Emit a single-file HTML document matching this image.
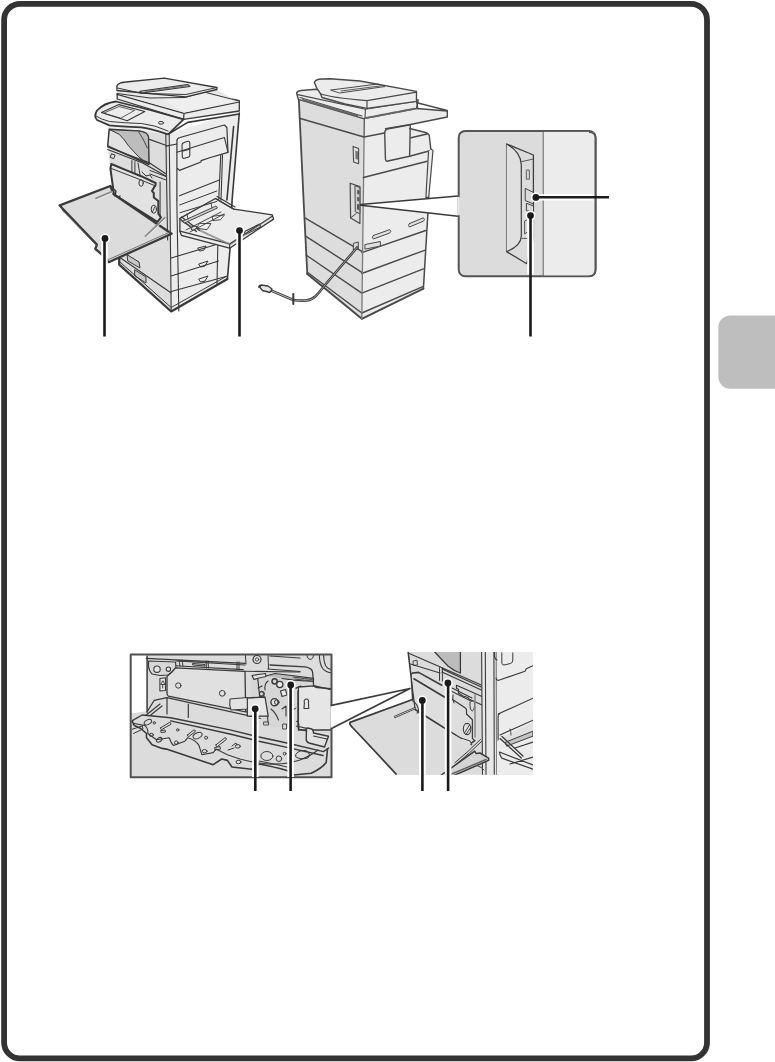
<!DOCTYPE html>
<html><head><meta charset="utf-8">
<style>
html,body{margin:0;padding:0;background:#fff;width:775px;height:1062px;overflow:hidden;font-family:"Liberation Sans",sans-serif;}
svg{position:absolute;left:0;top:0;}
</style></head>
<body>
<svg width="775" height="1062" viewBox="0 0 775 1062">
<!-- page frame -->
<rect x="4.1" y="3.8" width="702.9" height="1054.6" rx="16" ry="16" fill="none" stroke="#333" stroke-width="5.8"/>
<!-- side tab -->
<rect x="718.3" y="315.5" width="70" height="73.3" rx="12" ry="12" fill="#bebebe"/>

<g id="p1" stroke="#383838" stroke-width="1.3" stroke-linejoin="round" stroke-linecap="round">
<!-- base/right face -->
<path d="M168.1,134.3 L239.3,111 L239.3,120 L232.1,200 L230,249 L227.4,279 L171.2,311.5 Z" fill="#ececec" stroke="none"/>
<!-- front face -->
<path d="M108,128 L166,131 L168.1,134.3 L171.2,311.5 L119.2,264.6 L119.2,257 L114,195 L110.4,168.5 L107.7,146 Z" fill="#dddddd" stroke="none"/>
<!-- right face structure lines -->
<path d="M239.3,113 L232.1,200 L230,249 L227.4,279 M233.6,126.5 L226.9,200 M168.1,134.3 L187.7,122.4 L239.3,114" fill="none" stroke-width="1.6"/>
<!-- base drawer lines -->
<path d="M171.2,258 L218,244 M171.2,276 L218.5,261 M171.2,291.5 L226,276.5 M176.8,200 L178.8,311 M119.2,257 L171.2,293 M218,236 L217,284" fill="none" stroke-width="1.1"/>
<path d="M127.5,255 L139,262 L140,268 L128,261 Z M135,270 L146,277 L146,283 L135,276 Z" fill="#c8c8c8" stroke-width="1"/>
<path d="M198,248 L206,246 L204,250 L200,251 Z M199,264 L208,261 L205,266 L201,267 Z M199,279 L208,276 L205,281 L201,282 Z" fill="none" stroke-width="1"/>
<path d="M119.2,257 L119.2,264.6 L171.2,311.5 L227.4,279" fill="none" stroke-width="2.2"/>
<path d="M120,262 L171.2,307.5 L227,276" fill="none" stroke-width="1"/>
<!-- scanner plate front slope -->
<path d="M108,128 L117,98 L183.6,119.3 L168.1,134.3 Z" fill="#ececec" stroke="none"/>
<!-- scanner top plate -->
<path d="M117.2,93.5 L170,85 L239.3,100.7 L239.3,111 L183.6,119.3 L117.2,99 Z" fill="#ececec"/>
<path d="M117.2,94.4 L184,113.4 L239.3,102 M184,113.4 L183.6,119.3" fill="none" stroke-width="1.2"/>
<!-- ADF base and exit tray -->
<path d="M117,89.5 L185,97 L216.9,89.5 L236.4,100.7 L184,112.4 L117.2,93.5 Z" fill="#e8e8e8" stroke="none"/>
<path d="M160,97 L204,91.7 L236.4,100.7 L184,112.4 Z" fill="#efefef" stroke="none"/>
<path d="M117.2,93.5 L150,98 L185,97.5 L204,92 L237,100.5" fill="none" stroke-width="1"/>

<!-- ADF lid -->
<path d="M116.9,86 Q118,82.5 126,82 L164.2,78.1 L216.9,87.5 L216.9,89.5 L185.9,96.8 L116.9,90.5 Z" fill="#ececec"/>
<path d="M117.5,88 L141.8,93.4 L185.9,94.5 L216.9,87.5" fill="none" stroke-width="1"/>
<path d="M139.8,91.3 L187.7,84.5 L190,86.5 L142,93 Z" fill="#c4c4c4" stroke-width="1.1"/><path d="M146,91.5 L186,85.8" fill="none" stroke="#555" stroke-width="0.9" stroke-dasharray="1.2,1"/>
<!-- control panel -->
<path d="M97,110.5 Q104,103 116,101.5 L150,110 L183.6,119.3 L168.1,134.3 Q152,129 141.6,127.3 Q118,126.5 109.4,125.3 L97,120 Q93.5,116 97,110.5 Z" fill="#ececec" stroke-width="1.8"/>
<path d="M96,116 Q100,119 109.4,121.5 Q125,123 141.6,123.5 Q155,125 168.1,131" fill="none" stroke-width="1"/>
<path d="M101.4,112.5 L118.9,104.6 L144.8,111.5 L127.2,120.8 Z" fill="#ececec" stroke-width="1.1"/>
<path d="M104,113 L119,106.5 L134.5,110.5 L121,118 Z" fill="none" stroke-width="0.8"/>
<ellipse cx="161" cy="122.8" rx="2.6" ry="1.4" fill="none" stroke-width="1"/>
<!-- front corner lines -->
<path d="M165.8,134 L167.6,240 M169.2,134.5 L171.2,311.5" fill="none" stroke-width="1.1"/>

<!-- output tray -->
<path d="M109.2,129.2 L138.7,131.1 Q147.4,132 148.4,137 L148.9,164.5 L107.7,146 Z" fill="#e2e2e2" stroke-width="1.5"/>
<path d="M110.2,129.7 L138.7,131.1 Q147.4,132 148.4,137 L148.9,164.5 Q144,161 138.7,156.8 Q133,151 128.1,145.2 Q124,139 119.4,134.5 Z" fill="#bdbdbd" stroke-width="1"/>
<path d="M138.7,132 Q143,138 147.4,148" fill="none" stroke-width="0.9"/>
<path d="M107.7,147 L148.9,162.6 L165.8,173.7 M107.7,149.5 L142.6,163 L165.8,176.1 M149.4,139.4 L165.8,145.2" fill="none" stroke-width="1.2"/>
<rect x="111.1" y="154.4" width="3.4" height="3.8" fill="none" stroke-width="0.9" transform="rotate(20 112.8 156.3)"/>
<path d="M131.9,160.5 L131.9,174 M134.9,161.5 L134.9,175 M138,163 L140,175" fill="none" stroke-width="1"/>
<!-- waste toner box -->
<path d="M111.3,164 L126.7,170.4 L141.1,176.2 L155.6,183 L155.6,184.8 L152,191.1 L153.8,193 L153.8,197.5 L158.3,201 L158.3,213.7 L161,217.3 L157.4,221.8 L114,194.7 L110.4,168.5 Z" fill="#e2e2e2" stroke-width="2"/>
<path d="M111.3,168.5 L141.1,180 L155.6,186" fill="none" stroke-width="1"/>
<ellipse cx="141.1" cy="183" rx="2.2" ry="3.3" fill="none" stroke-width="1"/>
<ellipse cx="153.8" cy="209.2" rx="2.6" ry="4" fill="none" stroke-width="1"/>
<path d="M152.5,212 L155,206.5" fill="none" stroke-width="0.9"/>
<path d="M142,172 L146,176 L150,175 L152,178 M160.1,182 L160.1,216 M150,170.5 L166,176.5 M150,174 L166,180" fill="none" stroke-width="1"/>
<path d="M114,194.7 L116,199 L120,196" fill="none" stroke-width="1.4"/>
<!-- right face door -->
<path d="M176.9,200 L176.9,141 Q176.9,137.9 180,137.5 L224.4,125 L226.9,127.5 L228,152.3 L210.4,157.5 L201.1,160.6 L201,162 L179.5,170.4 L176.9,167.8" fill="#ececec" stroke-width="1.2"/>
<path d="M176.9,152.3 L224.4,137.4 L228,152.3 M166,146.1 L176.9,144" fill="none" stroke-width="1.1"/>
<path d="M182,145 Q182,143 184,142.6 L188,141.3 Q189.8,141 189.8,143 L189.8,155.4 Q189.8,156.8 188,157.3 L184.5,158.3 Q182.3,158.8 182.3,156.5 Z M182,151.3 L189.8,149.2" fill="none" stroke-width="1.1"/>
<path d="M179.5,195.7 L218.7,180.2 M220.7,155.4 L218.7,200 M222.5,155 L221,200" fill="none" stroke-width="1.1"/>
<!-- left door (open) -->
<path d="M59.7,205.4 L110.3,186 L113.7,194.3 L171.6,233.7 L108.7,262.2 L101.1,253.8 L95.3,248.8 L96.9,244.6 L62.5,208.5 Z" fill="#dcdcdc" stroke="#3a3a3a" stroke-width="2.3"/>
<path d="M62,210 L97.5,246.5 M103,256 L108.7,259.5 L170,232" fill="none" stroke-width="0.9" stroke="#666"/>
<path d="M96.1,198.4 L112,191.7 M145.6,236.2 L164.9,217.7" fill="none" stroke="#8a8a8a" stroke-width="1.8"/>
<path d="M96.5,199.5 L112.5,192.8 M146.5,237 L165.5,219" fill="none" stroke="#f2f2f2" stroke-width="0.8"/>
<path d="M110.3,186 L116,191 L115,196" fill="none" stroke-width="1.3"/>
<!-- bypass tray -->
<path d="M179.9,218.4 L215.4,198.5 L233.9,209.2 L272.2,214.8 L273.6,219.1 L229.6,248.2 L181.4,235.4 L179.9,231.2 Z" fill="#ececec" stroke-width="1.3"/>
<path d="M179.9,231.2 L229.6,243.9 L272.2,216.3 M229.6,243.9 L229.6,248.2" fill="none" stroke-width="1.2"/>
<path d="M181,221 L229.6,243.9" fill="none" stroke="#888" stroke-width="0.9"/>
<path d="M179.7,218.7 L196.5,231.5 M181.5,217 L199.5,230.5" fill="none" stroke-width="1.2"/>
<path d="M215.4,198.5 L233.9,209.2 M217,196.5 L235,207" fill="none" stroke-width="1.1"/>
<path d="M212.6,216.3 L224.6,214.8 L220.4,219.8 L213.3,220.5 Z M199.8,223.4 L211,223.6 L207,229.7 L197,228.3 Z" fill="#f2f2f2" stroke-width="0.9"/>
<path d="M183,221 L216,206 L217.5,208 L184.5,223 Z" fill="#cfcfcf" stroke-width="0.9"/>
<path d="M186,230 L221,212 M190,232 L224,214" fill="none" stroke-width="0.9"/>
<path d="M179.6,205 L216.8,191 M180,212.7 L216.8,201.4" fill="none" stroke-width="1"/>
<ellipse cx="194" cy="228" rx="3" ry="1.6" fill="#ddd" stroke-width="0.9" transform="rotate(-25 194 228)"/>
<path d="M187,214 L188,219 M211,203 L212,208" fill="none" stroke-width="0.9"/>
<path d="M245.2,231.2 L259.4,224.1 Q261.5,225.5 259.5,227.5 L246.5,234 Q243.5,233.5 245.2,231.2 Z" fill="none" stroke-width="1.1"/>
<path d="M200,231 L230,245 L269,219" fill="none" stroke="#777" stroke-width="0.8"/>
</g>

<g id="p2" stroke="#4a4a4a" stroke-width="1.4" stroke-linejoin="round" stroke-linecap="round">
<!-- left face -->
<path d="M298.8,99 L364.3,118.9 L361.8,318.8 L307.3,274 L303.8,205 Z" fill="#dddddd" stroke="none"/>
<path d="M298.8,99 L303.8,205 L307.3,274" fill="none" stroke-width="1.8"/>
<!-- right face -->
<path d="M364.3,118.9 L416.5,108.5 L447.3,111 L447.3,117 L409.2,124.7 L410.3,128.5 L426.6,132.8 Q429.4,134 429.4,136.5 L430.8,149.1 L433,150.5 L428,212 L423.4,288.6 L361.8,318.8 Z" fill="#ececec" stroke="none"/>
<path d="M428.5,197 L428,212 L423.4,288.6" fill="none" stroke-width="1.5"/>
<!-- drawer lines -->
<path d="M304.9,217.8 L361.8,251.4 M306,236.4 L361.8,272.3 M306,255 L361.8,293.2 M361.8,252.6 L425.7,230.5 M361.8,273.5 L424.5,250.3 M361.8,293.2 L423.4,268.9 M307.3,272.3 L361.8,313 L423.4,286.3" fill="none"/>
<path d="M307.3,274 L361.8,318.8 L423.4,288.6" fill="none" stroke-width="2"/>
<path d="M364.3,118.9 L364.1,136 " fill="none" stroke-width="1.2"/><path d="M364.1,136 L361.8,318.8" fill="none" stroke="#7a7a7a" stroke-width="1.3"/>
<!-- upper lines -->
<path d="M300.3,118.5 L364,137 L384.5,133 M363.4,177.5 L427.3,161.2" fill="none"/>
<!-- cover slots -->
<path d="M373.4,235.5 L389.7,229.6 Q392,231.5 389.7,233 L373.4,239 Q371,237 373.4,235.5 Z M409.4,223.6 L423.4,217.8 Q425.5,219.5 423.4,221.2 L409.4,227 Q407.3,225.5 409.4,223.6 Z" fill="#e0e0e0" stroke-width="1"/>
<path d="M365.3,244.5 L380.4,241.5 L380.4,246 L365.3,249.1 Z" fill="#e0e0e0" stroke-width="1"/>
<!-- exit holder -->
<path d="M384.7,133 Q384.7,129.5 388.5,128.8 L410.3,124.7 L409.6,156.2 L388,161 Q385.4,161.9 385.4,158 Z" fill="#ececec"/>
<path d="M409.6,128.5 L426.6,132.8 Q429.4,134 429.4,136.5 L430.8,149.1 M411,137.8 L427,134 M409.6,156.2 L430.8,150.5" fill="none"/>
<path d="M430.8,149.1 L433,150.5 L428.7,197.4 L425.9,197.4 L428.5,152" fill="#ececec" stroke-width="1.2"/>
<!-- top plate -->
<path d="M296.6,93 Q297,91 301,90.5 L316,89.3 L418.2,100 L416.5,108.5 L363.5,118.6 L298.3,99.3 Z" fill="#ececec"/>
<path d="M297.7,94.6 L365.4,109.3 L416.5,101.2 M365.4,109.3 L365,118.3 M300,97.5 L362,116" fill="none" stroke-width="1.1"/>
<path d="M303,100 L358,116 M366,118 L415,108.6" fill="none" stroke="#666" stroke-width="2" stroke-dasharray="1.2,1.2"/>
<path d="M416.5,101.5 L416.9,102.7 L447.3,110.5 L447.3,117 L409.2,124.7 L385.5,128.6 M416.5,108.5 L447.3,111" fill="none" stroke-width="1.4"/>
<path d="M416.5,101.5 L418,108.8" fill="none" stroke-width="1.1"/>
<!-- ADF -->
<path d="M314.3,82.3 Q315.5,79.2 322,79 L330,78.8 L360,81 L416.5,91.4 L416.5,101.4 L367,108.4 L345,104 L322,97.5 L320.5,93.7 Q316,88 314.3,82.3 Z" fill="#ececec"/>
<path d="M320.5,93.7 Q330,97.5 367,100.6 L416.5,92.1 M367,100.6 L367,108.4" fill="none" stroke-width="1.2"/>
<path d="M331,90 L378,84 L385,86.5 L340,93 Z" fill="none" stroke-width="1"/>
<path d="M341,91 L380,86" fill="none" stroke-width="0.9"/>
<!-- switch -->
<path d="M353.1,146.4 L358.6,148.5 L358.6,163.7 L353.6,162 Z" fill="#e2e2e2" stroke-width="1.1"/>
<path d="M355.3,150.5 L358,151.5 L358,159.8 L355.5,159 Z" fill="#777" stroke="none"/>
<!-- port panel -->
<path d="M350.2,183.2 L359.9,186.6 L359.9,223.5 L350.6,218 Z" fill="#dcdcdc" stroke-width="1.2"/>
<path d="M355.3,185.8 L359.9,187.5 L359.9,213.7 L355.7,212 Z" fill="#d0d0d0" stroke-width="1"/>
<path d="M351,217.5 L356.1,213.7" fill="none" stroke-width="1"/>
<path d="M357.2,190 L359.3,190.5 L359.3,194.5 L357.2,194 Z M357.2,197 L359.3,197.5 L359.3,201.5 L357.2,201 Z M357,204 L359.3,204.5 L359.3,210 L357,209.5 Z" fill="#555" stroke="none"/>
<!-- power socket + cord -->
<path d="M353.7,243.3 L358.3,242 L358.3,249 L353.7,250.3 Z" fill="#d8d8d8" stroke-width="1"/>
<path d="M357,247.5 L325,285 C318,294 314,300 306,300.5 C301,301 297,300.5 293.3,300" fill="none" stroke="#3a3a3a" stroke-width="2.6"/>
<path d="M357,247.5 L325,285 C318,294 314,300 306,300.5 C301,301 297,300.5 293.3,300" fill="none" stroke="#bbb" stroke-width="0.8"/>
<path d="M293.3,300 L271,290.5" fill="none" stroke="#3a3a3a" stroke-width="2.6"/>
<path d="M293.3,300 L271,290.5" fill="none" stroke="#ccc" stroke-width="0.9"/>
<path d="M293.3,294 L293.3,304" fill="none" stroke="#3a3a3a" stroke-width="2"/>
<path d="M272,289 L268,286 L261,285 L260,287.5 L262.5,290.5 L270,292.5 Z" fill="#e4e4e4" stroke="#3a3a3a" stroke-width="1.3"/>
<path d="M260,285.5 L259,287" fill="none" stroke="#3a3a3a" stroke-width="2"/>
</g>
<g id="inset" stroke-linejoin="round">
<!-- zoom cone -->
<path d="M360.6,204.5 L458,195.9 L458,216.2 L360.6,205.2 Z" fill="#fff" stroke="none"/><path d="M458,195.9 L360.6,204.5 L360.6,205.2 L458,216.2" fill="none" stroke="#3a3a3a" stroke-width="1.5"/>
<rect x="458.7" y="130.9" width="136.8" height="145.4" rx="6.5" fill="#dcdcdc" stroke="#555" stroke-width="2"/>
<rect x="543.2" y="131.9" width="51.3" height="143.4" fill="#ececec" stroke="none"/>
<path d="M589,131.9 Q595.5,131.9 595.5,138 L595.5,269 Q595.5,276.3 589,276.3" fill="#ececec" stroke="#555" stroke-width="2"/>
<path d="M543.2,131.9 L543.2,276" stroke="#666" stroke-width="1"/>
<path d="M457.5,196.9 L459.9,196.9 L459.9,215.2 L457.5,215.2 Z" fill="#e8e8e8" stroke="none"/>
<!-- port panel big -->
<path d="M506.6,144 L533.4,155 L533.4,238.4 L526.8,263.7 L506.6,251.6 Z" fill="#dcdcdc" stroke="#3e3e3e" stroke-width="1.3"/>
<path d="M506.6,144 Q521,152 521.3,165 L521.3,236 Q521,246 506.6,251.6" fill="#e0e0e0" stroke="#3e3e3e" stroke-width="1.2"/>
<path d="M521.3,161.7 L533.4,159 M521.3,238.4 L533.4,238.4" fill="none" stroke="#555" stroke-width="1"/>
<rect x="526.3" y="170" width="3.1" height="9.2" fill="#d4d4d4" stroke="#555" stroke-width="0.9"/>
<path d="M525.2,188.3 L533.5,192.5 L533.5,204 L525.2,200.5 Z" fill="#dadada" stroke="#444" stroke-width="1"/>
<path d="M526.4,203.2 L533.5,206.1 L533.5,211.7 L526.4,210.7 Z" fill="#dadada" stroke="#444" stroke-width="1"/>
<path d="M527.2,219.8 L524.6,221 L524.6,234 L527.2,232" fill="none" stroke="#555" stroke-width="1"/>
</g>

<g id="b1" stroke="#3a3a3a" stroke-width="1.1" stroke-linejoin="round" stroke-linecap="round">
<clipPath id="cb1"><rect x="131" y="655" width="200" height="122"/></clipPath>
<rect x="130.7" y="654.4" width="200.8" height="122.9" fill="#dcdcdc" stroke="none"/>
<g clip-path="url(#cb1)">
<!-- white left strip -->
<path d="M131,655 L147.1,655 L147.1,711 L131,713.5 Z" fill="#fff" stroke="none"/>
<path d="M147.1,656 L147.1,712" fill="none" stroke-width="1.5"/>
<!-- top rail -->
<path d="M146.2,658.3 L245.3,663.4 M176,661 L245,665 M171,665.5 L243.2,669.6 M268,669 L300,671.5 M270,656 L300,658" fill="none" stroke-width="1.2"/>
<path d="M179,660 L180,666 M182,660 L183,666 M206,661 L206.5,668 M208,661 L208.5,668 M237,662 L237,670 M239,662 L239,670 M245.3,654 L246,664 M268,654 L268.5,669 M193,663.5 L205,664.5 L205,666 L193,665 Z" fill="none" stroke-width="1"/>
<circle cx="257" cy="659.5" r="4" fill="#e4e4e4" stroke-width="1.2"/>
<circle cx="257" cy="659.5" r="1.7" fill="none" stroke-width="0.9"/>
<!-- top-left mechanism -->
<path d="M148.5,661 L175.5,662 L176,668 L172,672 L168,675 L160,675.5 L152,674 Q148.5,670 148.5,665 Z" fill="#d8d8d8" stroke-width="1.2"/>
<circle cx="157" cy="669.2" r="3.2" fill="#e6e6e6"/>
<circle cx="168.4" cy="669.2" r="2.2" fill="#e6e6e6"/>
<path d="M159.9,678.5 L165.5,677.7 L165.5,690.5 L159.9,691 Z" fill="#e4e4e4" stroke-width="1.1"/>
<path d="M162.7,681 L160.8,684.5 L164.5,684.5 Z M162.7,684.5 L162.7,688" fill="none" stroke-width="0.9"/>
<!-- inner panel -->
<path d="M167,676.3 L172,672 L175.5,667.8 L245,671.3 L245.7,711.8 L168.4,696.2 Q167,695.5 167,693 Z" fill="#e0e0e0" stroke-width="1.3"/>
<circle cx="178.3" cy="685.5" r="2.7" fill="none" stroke-width="1"/>
<circle cx="222.3" cy="693.3" r="2.9" fill="none" stroke-width="1"/>
<path d="M245,671.3 L300,672 M245.7,711.8 L300,722" fill="none" stroke-width="1.1"/>
<!-- lower frame -->
<path d="M147,712 L154.2,700.4 L167,697.6 L167,714 M167,697.6 L300,727 M188.3,704 L188.3,717.5 M140,720 L160,704 M142,722 L162,706" fill="none" stroke-width="1.2"/>
<!-- mechanism -->
<path d="M251,676 L258,674 L266,673.5 L275,674 L291.5,675.5 L313.5,678.4 L313.5,686 L296.1,688.2 L296.1,727 L268,727 L258,715 L252,700 Z" fill="#d6d6d6" stroke="none"/>
<path d="M252,675.5 L265.5,673.5 L266,676.5 L259,678 L254,679.5 Z" fill="#e6e6e6" stroke-width="1.2"/>
<path d="M257.8,679 L260,699 M258,688 L262,686" fill="none" stroke-width="1.2"/>
<path d="M266,676 L275,673.5 L291.5,675.5 L313.5,678.4 L313.5,681.3 L293.8,680.1 L282,678.5" fill="#bdbdbd" stroke-width="1.2"/>
<path d="M293,677 L312,679.5 M295,679 L311,681" fill="none" stroke="#555" stroke-width="1.2" stroke-dasharray="1.5,1"/>
<path d="M296.1,688.2 L300.8,686 L302,690 L298,691 L298,727" fill="none" stroke-width="1.3"/>
<path d="M288,682 L288,727 M268,681 Q264,684 265,690" fill="none" stroke-width="1.1"/>
<circle cx="274.6" cy="681.3" r="2.6" fill="#cfcfcf" stroke-width="1.5"/>
<circle cx="279.8" cy="684.5" r="3.1" fill="#ececec" stroke-width="1.3"/>
<path d="M280.5,691 L285.5,689.5 L287,695 L282,696.5 Z" fill="#e8e8e8" stroke-width="1.1"/>
<circle cx="261.8" cy="694" r="2.4" fill="#e0e0e0" stroke-width="1.2"/>
<path d="M262,691 L264,694 L261,696" fill="none" stroke-width="0.8"/>
<circle cx="274.5" cy="702.2" r="3.6" fill="#e2e2e2" stroke-width="1.4"/>
<circle cx="276.8" cy="702.2" r="2.3" fill="none" stroke-width="1"/>
<path d="M271,709 Q276,713 278.5,720 M267,711 L268,722 M282,709 L286,706 L286,716" fill="none" stroke-width="1.1"/>
<path d="M247.3,698 L265,697 L268.2,716.1 L247.3,716 Z" fill="#e6e6e6" stroke-width="1.3"/>
<path d="M230,699 L247.3,697.5 L247.3,709 L231,710 Q229,705 230,699 Z" fill="#e2e2e2" stroke-width="1.1"/>
<path d="M288,696 L293,693 M290,712 L296,708" fill="none" stroke-width="1"/>
<!-- right side panel -->
<path d="M298.4,687 L314.7,685.9 L329.8,689.4 L332,689 L332,730 L298.4,730 Z" fill="#e6e6e6" stroke-width="1.3"/>
<path d="M270,665 L305.2,666.8 Q312.7,668 312.7,673 L313.6,685.3 Q314,687 317,687.5 L331,688.6" fill="none" stroke-width="1.3"/>
<path d="M304.4,702.5 A2.3,2.3 0 1 1 308.4,702.5 L308.8,708.5 L304,708.5 Z" fill="none" stroke-width="1.1"/>
<path d="M319.4,655 Q319.5,672 331,672.7 M323.6,655 Q324,669 331,669.3" fill="none" stroke-width="1.1"/>
<path d="M307,655.5 Q307.5,659.3 310.2,659.3 Q313,659.3 313.5,655.5" fill="none" stroke-width="1"/>
<path d="M298.8,724 L298.8,726.5 L306.5,728.3 M298.8,726.5 L298.8,729 L306,731" fill="none" stroke-width="1.2"/>
<path d="M306.5,729 Q306,728 307.5,728 L312,729 Q313.5,730.5 313.5,733 L328.5,736.2 L324.5,747 L309,743 Q306.2,742 306.2,739 Z" fill="#e2e2e2" stroke-width="1.4"/>
<path d="M313.5,736 L327,739" fill="none" stroke-width="1.1"/>
<!-- door panel (open cover) -->
<path d="M131,713.5 L142.2,715 L170.6,717.8 L230,729.9 L287,743 L323.5,751.6 L332,748 L332,780 L131,780 Z" fill="#dcdcdc" stroke="none"/>
<path d="M132.3,720.7 L142.2,715 M142.2,715 L170.6,717.8 L230,729.9 L259,737 L287,743 L323.5,751.6 L328.6,748 M170.6,720.9 L230,734 L259,741.3 L287,747.4 L323,755.5" fill="none" stroke-width="1.4"/>
<path d="M132.3,721.4 L134.4,725.6 L140.8,728.5 L146.5,733.5 L146.5,737.7 L152.1,744.8 L162.1,748.4 L166.3,749.1 L213.2,764.7 L221.7,759 L227.4,760.4 L232,767 L251.7,769.2 L259,764 Q275,767 287,770.5 L293.7,775 L311.3,773.3 Q322,768 326.2,762.4 L327.5,748.9" fill="none" stroke-width="1.6"/><path d="M259,761 Q275,764 287,767" fill="none" stroke-width="1"/>
<path d="M134.4,723.5 L145,725.6 Q148,728 147.9,733.5 L156.4,739.8 L169.2,737.7 Q171,743 173.4,745.5 L184.8,741.3 L187.6,737.7 Q196,740 199,745.5 L201.8,754.7 L213.2,752.6 L216,749.1 L227.4,754.7 L240,759 Q255,763 268,764 Q285,765 300,760 Q312,755 318,750" fill="none" stroke-width="1.1"/>
<path d="M132.3,729.2 L142.2,726 L143,729 L133.5,733.5" fill="none" stroke-width="1"/>
<g fill="none" stroke-width="1">
<ellipse cx="147.9" cy="722.1" rx="4" ry="2.3" transform="rotate(-28 147.9 722.1)"/>
<circle cx="154.3" cy="722.8" r="1.2"/>
<path d="M160.6,727.8 L169.8,722.3 Q171.5,723 170.8,724.4 L161.6,729.6 Q159.8,729.3 160.6,727.8 Z"/>
<path d="M161,730.5 L165,730 L165.5,732 L161.5,732.5 Z"/>
<circle cx="177.7" cy="729.9" r="1.2"/>
<path d="M187.6,734.9 L194,729.8 Q195.8,730.2 195.2,731.6 L188.8,736.6 Q187,736.3 187.6,734.9 Z"/>
<ellipse cx="197.6" cy="735.6" rx="4.8" ry="2.8" transform="rotate(-25 197.6 735.6)"/>
<circle cx="206.1" cy="737.7" r="1.5"/>
<path d="M216,744.8 L225,737.7 Q226.8,738 226.3,739.5 L217.3,746.6 Q215.5,746.3 216,744.8 Z"/>
<path d="M215,747.5 L220,746.5 L220.5,749 L215.5,750 Z"/>
<ellipse cx="151.4" cy="734.9" rx="2" ry="1.6"/>
<ellipse cx="159.2" cy="739.8" rx="3" ry="2" transform="rotate(-30 159.2 739.8)"/>
<circle cx="176.3" cy="742.7" r="1.8"/>
<ellipse cx="204.6" cy="751.2" rx="2.5" ry="1.7"/>
<ellipse cx="237.8" cy="746.3" rx="2.5" ry="1.8"/>
<ellipse cx="238.5" cy="762" rx="2.5" ry="1.8"/>
<ellipse cx="266.9" cy="756" rx="6" ry="4.5"/>
<circle cx="278.9" cy="758.7" r="2.8"/>
<circle cx="284.6" cy="753.7" r="1.4"/>
<path d="M296,754 Q300,749 307,751 Q311,754 308,758 Q300,760 296,757 Z"/>
<path d="M232,746 L236,743 L237,745 M228,750 L234,748"/>
</g>

<rect x="264" y="722" width="4.5" height="3" fill="none" stroke-width="0.9"/>
<rect x="283" y="724" width="3.5" height="5" fill="none" stroke-width="0.9"/>
</g>
<rect x="130.7" y="654.4" width="200.8" height="122.9" fill="none" stroke="#505050" stroke-width="2"/>
</g>
<g id="b2" stroke="#3a3a3a" stroke-width="1.2" stroke-linejoin="round" stroke-linecap="round">
<!-- cone from box1 -->
<path d="M331.5,705.3 L410,688.5 L331.5,728.5 Z" fill="#fff" stroke="none"/>
<path d="M331.5,705.3 L410,688.5 L331.5,728.5" fill="none" stroke="#3a3a3a" stroke-width="1.7"/>
<path d="M330.5,706.6 L332.6,706.6 L332.6,727.3 L330.5,727.3 Z" fill="#fff" stroke="none"/>
<clipPath id="cb2"><path d="M408.1,652 L533,652 L533,774.7 L397,774.7 Q372,748 352,727 Q349,724 350,722.4 L412.6,699.5 L411.3,678.9 Z"/></clipPath>
<g clip-path="url(#cb2)">
<rect x="340" y="652" width="194" height="123" fill="#dcdcdc" stroke="none"/>
<!-- output tray dark -->
<path d="M434.8,652 L460.4,652 L460.4,673 Q452,670 446,663 Q440,657 434.8,652 Z" fill="#bcbcbc" stroke="none"/>
<path d="M434.8,652 Q442,660 448,666 Q454,671 460.4,673 L460.4,652" fill="none" stroke-width="1.3"/>
<path d="M408.1,652 L411.3,678.9 L415.2,700.8" fill="none" stroke-width="1.4"/>
<path d="M408.7,653.2 L441.5,667.5 L481.3,685 M410.5,664 L440,673 M442,669 L481.3,687 M442,672 L481.3,690" fill="none" stroke-width="1.2"/>
<path d="M413.4,661 L417,660.2 L417.4,665 L413.8,665.4 Z" fill="none" stroke-width="0.9"/>
<path d="M439.5,667.7 L439.5,680.5 M442.4,668 L442.4,681" fill="none" stroke-width="1"/>
<!-- waste toner box -->
<path d="M412.8,673 L418.6,672.4 L441.8,685.2 L452.6,702.3 L465.4,710.5 L465.4,715.1 L472.4,719.7 L472.4,738.3 L474.7,740.6 L470,744.1 L415.1,709.5 L411,677 Z" fill="#dedede" stroke="none"/>
<path d="M412.8,673 L418.6,672.4 L441.8,685.2 M413.9,678.8 L444.8,697.2 M415.1,709.5 L470,744.1 L474.7,740.6" fill="none" stroke-width="1.6"/><path d="M452,688 L472,698 M452,691.4 L472,701.5" fill="none" stroke-width="1.1"/>
<path d="M412.8,673 Q410,674 411,677 L415.1,709.5" fill="none" stroke-width="1.2"/>
<path d="M456.5,685.3 L482,696.5 M456.5,685.3 L456.5,688.5 L458.5,689.2 L458.5,693 L463,696 L468,697.5 L469,699 L482,705 M452.6,699.5 L465.4,708 Q467,709 466.5,712 L466.5,714 L472.4,719.7 L472.4,738.3 L474.7,740.6" fill="none" stroke-width="1.2"/>
<path d="M470,702 Q469.5,710 472.3,711 Q475,710 474.5,702" fill="none" stroke-width="1"/><path d="M453,695 Q452,700 454,703" fill="none" stroke-width="1"/>
<ellipse cx="467.1" cy="729" rx="3.8" ry="5.6" fill="none" stroke-width="1.1"/>
<path d="M464.5,733 L469.5,725 M466,734.5 L471,727" fill="none" stroke-width="0.9"/>
<path d="M461,738 L470,741 L472,745 L463,743 Z" fill="#e2e2e2" stroke-width="1"/>
<path d="M475,695 L475,737" fill="none" stroke="#888" stroke-width="1.5"/>
<!-- door (front cover) -->
<path d="M350,722.4 L412.6,699.5 L413.9,712 L470,744.1 L476,752 L488.6,758.1 L452.6,774.7 L397,774.7 Q372,748 352,727 Q349,724 350,722.4 Z" fill="#dcdcdc" stroke="none"/>

<path d="M394.5,716.3 L415.2,707.3 L415.8,708.6 L395.2,717.6 Z" fill="#f0f0f0" stroke-width="0.9"/>
<path d="M412.6,700.8 Q418,704 419,712.4 L417,713" fill="none" stroke-width="1.1"/>
<path d="M454.9,762.7 Q468,752 480.5,739.5 M456.5,764 Q470,753 482,741" fill="none" stroke-width="1"/>

<!-- corner pillar -->
<path d="M481.6,652 L482.5,775 L496.3,775 L496.3,652 Z" fill="#e8e8e8" stroke="none"/>
<path d="M481.6,652 L482.5,775 M485.3,652 L486,775 M493.9,652 L494.3,775 M496.3,652 L496.6,775" fill="none" stroke-width="1.1"/>
<path d="M474.7,751.1 L476,753.5 L480,753 L488.6,758.1 L488.6,760.4 L452.6,776 L440,776 Z" fill="#d4d4d4" stroke-width="1.5"/>
<path d="M486,759.5 L447,776" fill="none" stroke="#666" stroke-width="1.6" stroke-dasharray="1,0.8"/>
<path d="M478,766 Q482,767 484,770" fill="none" stroke-width="1"/>
<!-- right face -->
<path d="M496.6,652 L533,652 L533,775 L496.6,775 Z" fill="#ececec" stroke="none"/>
<path d="M494.5,652 L494.5,656 Q494.5,659 497,660 M498.1,680.4 L525,671.3 L526.3,668.8 L533,665.7 M498.1,680.4 Q496,680 496,678" fill="none" stroke-width="1.1"/>
<path d="M501.8,652.9 L501.8,663 Q502,665.1 504,665 L510.5,663.5 Q512.8,663 512.8,660 L512.8,652.9" fill="none" stroke-width="1"/>
<path d="M498.1,714.1 L533,698.2 M498.1,716.5 L498.1,740 M498.1,716.5 Q498.1,714.5 500,713.5 M500,734.9 L533,720.2" fill="none" stroke-width="1.1"/>
<!-- bypass tray -->
<path d="M500,738.6 L533,722 L533,731.2 L505.5,742.2 Z" fill="#e0e0e0" stroke="none"/>
<path d="M505.5,742.2 L533,731.2 L533,736.1 L507,746 Z" fill="#c4c4c4" stroke-width="1"/>
<path d="M500,738.6 L521.4,758.1 M502,736.5 L523,756" fill="none" stroke-width="1.3"/>
<path d="M499.4,752 Q500,756 501.8,758.1 L533,769.2 M499.4,752 L533,765 M510,764 L533,757 M515,748 L533,742" fill="none" stroke-width="1.2"/>
<path d="M511,735 Q511,731 510,729" fill="none" stroke-width="0.9"/>
</g>
<path d="M396,774 Q372,748 352,727 Q349,724 350,722.4 L412.6,699.5" fill="none" stroke="#3a3a3a" stroke-width="1.8"/>
<path d="M408.1,652.5 L411.3,678.9 L412.6,699.5" fill="none" stroke="#3a3a3a" stroke-width="1.4"/>
</g>

<g id="halos" stroke="#fff" fill="#fff">
<g stroke-width="6.6">
<line x1="104.5" y1="238" x2="104.5" y2="264"/>
<line x1="239.5" y1="231" x2="239.5" y2="249"/>
<line x1="255.3" y1="708" x2="255.3" y2="777"/>
<line x1="290.6" y1="684" x2="290.6" y2="777"/>
<line x1="422.4" y1="700" x2="422.4" y2="775"/>
<line x1="448.1" y1="682" x2="448.1" y2="775"/>
<line x1="530.5" y1="215" x2="530.5" y2="274.5"/>
<line x1="535" y1="197.3" x2="593.5" y2="197.3"/>
</g>
<g stroke="none">
<circle cx="105" cy="238.4" r="5"/>
<circle cx="239.5" cy="230.6" r="5"/>
<circle cx="535.9" cy="197.4" r="5"/>
<circle cx="530.5" cy="215.6" r="5"/>
<circle cx="255.2" cy="708.8" r="5"/>
<circle cx="290.7" cy="685" r="5"/>
<circle cx="422.3" cy="700.4" r="5"/>
<circle cx="447.9" cy="683" r="5"/>
</g>
</g>
<g id="leaders" stroke="#1c1a1a" stroke-width="2.6" fill="#1c1a1a">
<line x1="104.5" y1="238" x2="104.5" y2="336.5"/>
<line x1="239.5" y1="231" x2="239.5" y2="336.5"/>
<line x1="530.5" y1="215.6" x2="530.5" y2="336.5"/>
<line x1="535.9" y1="197.3" x2="609" y2="197.3"/>
<line x1="255.3" y1="708.8" x2="255.3" y2="791"/>
<line x1="290.6" y1="685" x2="290.6" y2="791"/>
<line x1="422.4" y1="700.4" x2="422.4" y2="791"/>
<line x1="448.1" y1="683" x2="448.1" y2="791"/>
</g>
<g id="dots" fill="#1c1a1a" stroke="none">
<circle cx="105" cy="238.4" r="3.4"/>
<circle cx="239.5" cy="230.6" r="3.4"/>
<circle cx="535.9" cy="197.4" r="3.4"/>
<circle cx="530.5" cy="215.6" r="3.4"/>
<circle cx="255.2" cy="708.8" r="3.4"/>
<circle cx="290.7" cy="685" r="3.4"/>
<circle cx="422.3" cy="700.4" r="3.4"/>
<circle cx="447.9" cy="683" r="3.4"/>
</g>
</svg>
</body></html>
